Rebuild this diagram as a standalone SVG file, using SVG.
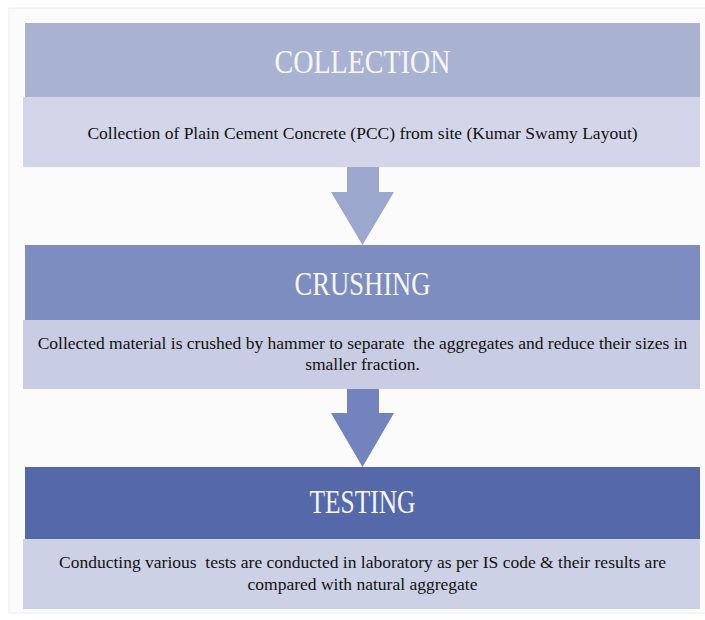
<svg xmlns="http://www.w3.org/2000/svg" width="705" height="620" viewBox="0 0 705 620">
  <style>
    .title { font-family: "Liberation Serif", "Times New Roman", serif; font-size: 33px; fill: #f5f6fb; text-anchor: middle; }
    .desc { font-family: "Liberation Serif", "Times New Roman", serif; font-size: 17.5px; fill: #111111; text-anchor: middle; }
    .h1 { fill: #a9b2d1; }
    .d1 { fill: #d3d6e8; }
    .h2 { fill: #7e8dc0; }
    .d2 { fill: #c8cde3; }
    .h3 { fill: #5568a9; }
    .d3 { fill: #ccd1e6; }
  </style>

  <!-- page background and panel -->
  <rect x="0" y="0" width="705" height="620" fill="#ffffff"/>
  <rect x="9" y="8" width="700" height="605" fill="#fbfbfb" stroke="#ededed" stroke-width="1"/>

  <!-- step 1 -->
  <g id="collection">
    <rect class="h1" x="25" y="23" width="675" height="74"/>
    <rect class="d1" x="23" y="97" width="677" height="70"/>
    <text class="title" x="362.5" y="73" textLength="176" lengthAdjust="spacingAndGlyphs">COLLECTION</text>
    <text class="desc" x="362.5" y="139">Collection of Plain Cement Concrete (PCC) from site (Kumar Swamy Layout)</text>
  </g>

  <!-- step 2 -->
  <g id="crushing">
    <rect class="h2" x="25" y="245" width="675" height="75"/>
    <rect class="d2" x="23" y="320" width="677" height="69"/>
    <text class="title" x="362.5" y="295" textLength="136" lengthAdjust="spacingAndGlyphs">CRUSHING</text>
    <text class="desc" x="362.5" y="349" xml:space="preserve">Collected material is crushed by hammer to separate  the aggregates and reduce their sizes in</text>
    <text class="desc" x="362.5" y="370">smaller fraction.</text>
  </g>

  <!-- step 3 -->
  <g id="testing">
    <rect class="h3" x="25" y="467" width="675" height="72"/>
    <rect class="d3" x="23" y="539" width="677" height="70"/>
    <text class="title" x="362.5" y="513" textLength="106" lengthAdjust="spacingAndGlyphs">TESTING</text>
    <text class="desc" x="362.5" y="568" xml:space="preserve">Conducting various  tests are conducted in laboratory as per IS code &amp; their results are</text>
    <text class="desc" x="362.5" y="590">compared with natural aggregate</text>
  </g>

  <!-- block arrows between steps -->
  <g id="connectors">
    <polygon fill="#9ca7cd" points="347,167 379,167 379,192 394,192 362.5,245 331,192 347,192"/>
    <polygon fill="#7383bd" points="347,389 379,389 379,413 394,413 362.5,467 331,413 347,413"/>
  </g>
</svg>
